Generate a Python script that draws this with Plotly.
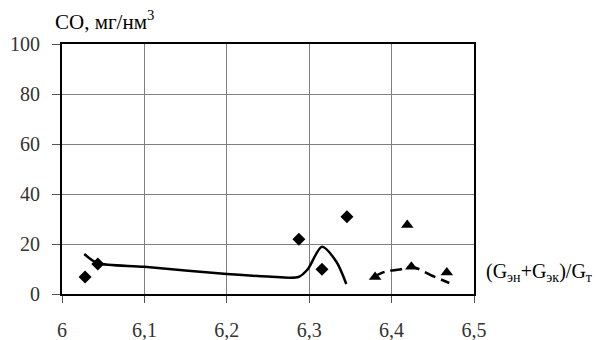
import plotly.graph_objects as go

# Data
diamond_x = [6.028, 6.0435, 6.2875, 6.3155, 6.3458]
diamond_y = [6.8, 12.0, 21.9, 9.9, 30.9]

triangle_x = [6.380, 6.419, 6.424, 6.467]
triangle_y = [6.8, 27.6, 10.9, 8.6]

solid_x = [6.027, 6.043, 6.1, 6.2, 6.25, 6.287, 6.298, 6.3155, 6.333, 6.345]
solid_y = [16.0, 12.4, 10.9, 8.0, 7.0, 6.8, 9.8, 18.9, 12.9, 4.0]

dash_x = [6.378, 6.393, 6.41, 6.425, 6.45, 6.47]
dash_y = [6.8, 9.0, 9.8, 10.8, 7.2, 4.4]

x_ticks = [6.0, 6.1, 6.2, 6.3, 6.4, 6.5]
x_tick_labels = ["6", "6,1", "6,2", "6,3", "6,4", "6,5"]
y_ticks = [0, 20, 40, 60, 80, 100]
y_tick_labels = ["0", "20", "40", "60", "80", "100"]

FONT = "'Liberation Serif', 'Times New Roman', serif"

fig = go.Figure()
fig.add_trace(go.Scatter(x=solid_x, y=solid_y, mode="lines",
                         line=dict(color="black", width=2.5, shape="spline", smoothing=0.8),
                         showlegend=False, hoverinfo="skip"))
fig.add_trace(go.Scatter(x=dash_x, y=dash_y, mode="lines",
                         line=dict(color="black", width=2.5, shape="spline", dash="12px,6px"),
                         showlegend=False, hoverinfo="skip"))
fig.add_trace(go.Scatter(x=diamond_x, y=diamond_y, mode="markers",
                         marker=dict(symbol="diamond", size=10, color="black"),
                         showlegend=False))
fig.add_trace(go.Scatter(x=triangle_x, y=triangle_y, mode="markers",
                         marker=dict(symbol="triangle-up", size=11, color="black"),
                         showlegend=False))

fig.update_xaxes(range=[6.0, 6.5], tickvals=x_ticks, ticktext=x_tick_labels,
                 showgrid=True, gridcolor="#7f7f7f", gridwidth=1,
                 showline=True, linecolor="black", linewidth=2, mirror=True,
                 ticks="outside", ticklen=7, tickcolor="#555", zeroline=False,
                 ticklabelstandoff=10, automargin=False,
                 tickfont=dict(family=FONT, size=20, color="#333"))
fig.update_yaxes(range=[0, 100], tickvals=y_ticks, ticktext=y_tick_labels,
                 showgrid=True, gridcolor="#7f7f7f", gridwidth=1,
                 showline=True, linecolor="black", linewidth=2, mirror=True,
                 ticks="outside", ticklen=8, tickcolor="#555", zeroline=False,
                 ticklabelstandoff=8, automargin=False,
                 tickfont=dict(family=FONT, size=20, color="#333"))

fig.add_annotation(text="CO, мг/нм<sup>3</sup>", xref="paper", yref="paper",
                   x=-0.021, y=1.092, xanchor="left", yanchor="middle", showarrow=False,
                   font=dict(family=FONT, size=21, color="black"))
fig.add_annotation(text="(G<sub>эн</sub>+G<sub>эк</sub>)/G<sub>т</sub>", xref="paper", yref="paper",
                   x=1.024, y=0.088, xanchor="left", yanchor="middle", showarrow=False,
                   font=dict(family=FONT, size=20, color="black"))

fig.update_layout(width=596, height=340, margin=dict(l=62, r=122, t=44, b=46),
                  plot_bgcolor="white", paper_bgcolor="white", showlegend=False)

# remove the browser's default 8px body margin so the figure sits at the page origin
fig.write_html("out.html", config={"displayModeBar": False},
               post_script="document.body.style.margin='0px';")
